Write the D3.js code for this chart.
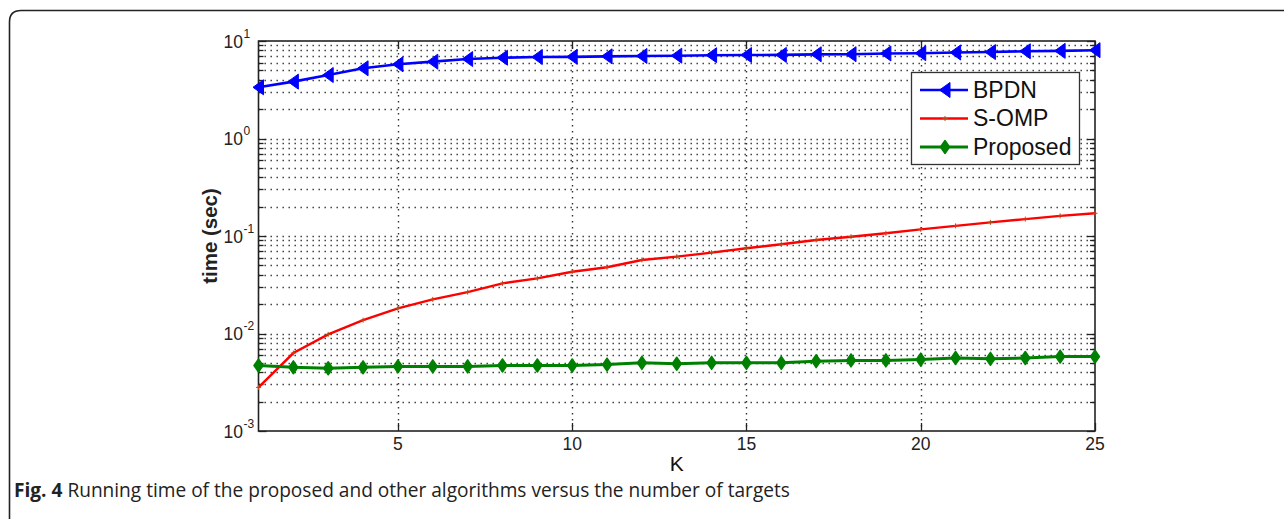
<!DOCTYPE html>
<html>
<head>
<meta charset="utf-8">
<script src="https://cdn.jsdelivr.net/npm/d3@7"></script>
<style>
  html, body { margin: 0; padding: 0; background: #fff; }
  svg { display: block; }
</style>
</head>
<body>
<svg id="chart" width="1284" height="519"></svg>
<script>
// ---- data ----
const K = d3.range(1, 26);
const bpdn = [3.35, 3.83, 4.48, 5.25, 5.77, 6.14, 6.53, 6.74, 6.85, 6.88, 6.96, 7.02, 7.07, 7.15, 7.18,
              7.2, 7.3, 7.32, 7.45, 7.5, 7.62, 7.7, 7.85, 7.92, 8.05];
const somp = [0.0028, 0.0063, 0.0098, 0.0137, 0.0181, 0.0224, 0.0266, 0.0327, 0.0368, 0.043, 0.0478,
              0.0568, 0.0614, 0.0675, 0.0748, 0.0822, 0.091, 0.0984, 0.1066, 0.117, 0.127, 0.138,
              0.149, 0.161, 0.171];
const proposed = [0.0047, 0.0045, 0.0044, 0.0045, 0.0046, 0.0046, 0.0046, 0.0047, 0.0047, 0.0047,
                  0.0048, 0.0050, 0.0049, 0.0050, 0.0050, 0.0050, 0.0052, 0.0053, 0.0053, 0.0054,
                  0.0056, 0.0055, 0.0056, 0.0058, 0.0058];
const seriesNames = ["BPDN", "S-OMP", "Proposed"];
const xTicks = [5, 10, 15, 20, 25];
const yExponents = [-3, -2, -1, 0, 1];
const xLabel = "K";
const yLabel = "time (sec)";
const caption = ["Fig. 4", " Running time of the proposed and other algorithms versus the number of targets"];

// ---- layout ----
const svg = d3.select("#chart");
const L = 258.5, R = 1095, T = 41, B = 431;
const x = d3.scaleLinear().domain([1, 25]).range([L, R]);
const y = d3.scaleLog().domain([1e-3, 10]).range([B, T]);
const font = "Arial, 'Liberation Sans', sans-serif";

// outer frame (rounded top-left corner, open to right/bottom)
svg.append("path")
  .attr("d", "M9.5,530 L9.5,22 Q9.5,10.5 21,10.5 L1290,10.5")
  .attr("fill", "none").attr("stroke", "#222").attr("stroke-width", 1.6);

// grid
const grid = svg.append("g").attr("stroke", "#333").attr("stroke-width", 1.4)
  .attr("stroke-dasharray", "1.4,4.6").attr("fill", "none");
const minorVals = [];
for (let e = -3; e < 1; e++) for (let m = 1; m <= 9; m++) minorVals.push(m * Math.pow(10, e));
minorVals.push(10);
minorVals.filter(v => v > 1e-3 && v < 10).forEach(v => {
  grid.append("line").attr("x1", L).attr("x2", R)
    .attr("y1", Math.round(y(v)) + 0.5).attr("y2", Math.round(y(v)) + 0.5);
});
xTicks.filter(v => v < 25).forEach(v => {
  grid.append("line").attr("x1", Math.round(x(v)) + 0.5).attr("x2", Math.round(x(v)) + 0.5)
    .attr("y1", T).attr("y2", B);
});

// ticks (inward, both sides)
const tk = svg.append("g").attr("stroke", "#222").attr("stroke-width", 1.3);
minorVals.filter(v => v >= 1e-3 && v <= 10).forEach(v => {
  const major = Math.abs(Math.log10(v) - Math.round(Math.log10(v))) < 1e-9;
  const len = major ? 8 : 5;
  const yy = Math.round(y(v)) + 0.5;
  tk.append("line").attr("x1", L).attr("x2", L + len).attr("y1", yy).attr("y2", yy);
  tk.append("line").attr("x1", R).attr("x2", R - len).attr("y1", yy).attr("y2", yy);
});
xTicks.forEach(v => {
  const xx = Math.round(x(v)) + 0.5;
  tk.append("line").attr("x1", xx).attr("x2", xx).attr("y1", B).attr("y2", B - 8);
  tk.append("line").attr("x1", xx).attr("x2", xx).attr("y1", T).attr("y2", T + 8);
});

// axis box
svg.append("rect").attr("x", L).attr("y", T).attr("width", R - L).attr("height", B - T)
  .attr("fill", "none").attr("stroke", "#222").attr("stroke-width", 1.6);

// y tick labels
yExponents.forEach(e => {
  const yy = y(Math.pow(10, e));
  svg.append("text").attr("x", 243).attr("y", yy + 6.5).attr("text-anchor", "end")
    .attr("font-family", font).attr("font-size", 17.5).attr("fill", "#222").text("10");
  svg.append("text").attr("x", 243.5).attr("y", yy - 3.5).attr("text-anchor", "start")
    .attr("font-family", font).attr("font-size", 12).attr("fill", "#222").text(String(e));
});
// x tick labels
xTicks.forEach(v => {
  svg.append("text").attr("x", x(v)).attr("y", 450).attr("text-anchor", "middle")
    .attr("font-family", font).attr("font-size", 17.5).attr("fill", "#222").text(String(v));
});
// axis labels
svg.append("text").attr("x", x(13)).attr("y", 471).attr("text-anchor", "middle")
  .attr("font-family", font).attr("font-size", 21).attr("fill", "#111").text(xLabel);
svg.append("text").attr("transform", `translate(217,${(T + B) / 2}) rotate(-90)`)
  .attr("text-anchor", "middle").attr("font-family", font).attr("font-size", 20.5)
  .attr("font-weight", "bold").attr("fill", "#222").text(yLabel);

// lines
const line = d3.line().x((d, i) => x(K[i])).y(d => y(d));
const plot = svg.append("g");
plot.append("path").datum(somp).attr("d", line).attr("fill", "none")
  .attr("stroke", "#ff0000").attr("stroke-width", 2.4);
plot.append("path").datum(proposed).attr("d", line).attr("fill", "none")
  .attr("stroke", "#008000").attr("stroke-width", 3);
plot.append("path").datum(bpdn).attr("d", line).attr("fill", "none")
  .attr("stroke", "#0000ff").attr("stroke-width", 2.6);

// markers
function triLeft(g, cx, cy) {
  g.append("path").attr("d", `M${cx - 5.5},${cy} L${cx + 5},${cy - 7.5} L${cx + 5},${cy + 7.5} Z`)
    .attr("fill", "#0000ff").attr("stroke", "#0000ff").attr("stroke-width", 1);
}
function diamond(g, cx, cy) {
  g.append("path").attr("d", `M${cx},${cy - 6.5} L${cx + 4.5},${cy} L${cx},${cy + 6.5} L${cx - 4.5},${cy} Z`)
    .attr("fill", "#008000").attr("stroke", "#008000").attr("stroke-width", 1.5)
    .attr("stroke-linejoin", "round");
}
function plus(g, cx, cy) {
  g.append("path").attr("d", `M${cx - 2.5},${cy} L${cx + 2.5},${cy} M${cx},${cy - 2.5} L${cx},${cy + 2.5}`)
    .attr("stroke", "#b84a1a").attr("stroke-width", 1);
}
somp.forEach((d, i) => plus(plot, x(K[i]), y(d)));
proposed.forEach((d, i) => diamond(plot, x(K[i]), y(d)));
bpdn.forEach((d, i) => triLeft(plot, x(K[i]), y(d)));

// legend
const lg = svg.append("g");
lg.append("rect").attr("x", 911.5).attr("y", 72.5).attr("width", 168).attr("height", 92)
  .attr("fill", "#fff").attr("stroke", "#333").attr("stroke-width", 1.3);
const rows = [90, 118.5, 147];
const colors = ["#0000ff", "#ff0000", "#008000"];
const widths = [2.6, 2.4, 3];
seriesNames.forEach((n, i) => {
  lg.append("line").attr("x1", 920).attr("x2", 968).attr("y1", rows[i]).attr("y2", rows[i])
    .attr("stroke", colors[i]).attr("stroke-width", widths[i]);
  if (i === 0) triLeft(lg, 945, rows[i]);
  if (i === 1) plus(lg, 945, rows[i]);
  if (i === 2) diamond(lg, 945, rows[i]);
  lg.append("text").attr("x", 973).attr("y", rows[i] + 7.5).attr("font-family", font)
    .attr("font-size", 23).attr("fill", "#111").text(n);
});

// caption
const cap = svg.append("text").attr("x", 14).attr("y", 497)
  .attr("font-family", "'Open Sans', 'Noto Sans', sans-serif").attr("font-size", 19.1).attr("fill", "#222");
cap.append("tspan").attr("font-weight", "bold").text(caption[0]);
cap.append("tspan").text(caption[1]);
</script>
</body>
</html>
